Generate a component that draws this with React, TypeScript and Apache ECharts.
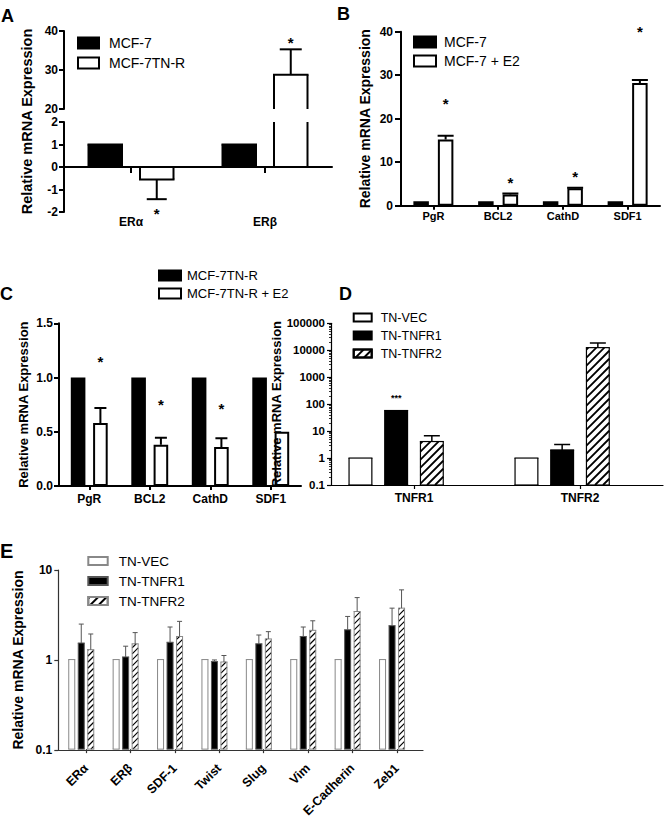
import React, { useEffect, useRef } from 'react';
import * as echarts from 'echarts';

const FONT = '"Liberation Sans", Arial, Helvetica, sans-serif';
const Y_TITLE = 'Relative mRNA Expression';

// ---- Panel A
const aCategories = ['ERα', 'ERβ'];
const aMCF7 = [1, 1];
const aMCF7TNR = [-0.55, 28.8];
const aMCF7TNRErr = [0.88, 6.5];
const aStars = [-1.9, 38];
const aUpperAxis = { min: 20, max: 40, interval: 10 };
const aLowerAxis = { min: -2, max: 2, interval: 1 };

// ---- Panel B
const bCategories = ['PgR', 'BCL2', 'CathD', 'SDF1'];
const bMCF7 = [1, 1, 1, 1];
const bMCF7E2 = [15.2, 2.6, 4.0, 28.2];
const bMCF7E2Err = [0.9, 0.2, 0.15, 0.7];
const bStars = [24.5, 6.3, 7.6, 41];

// ---- Panel C
const cCategories = ['PgR', 'BCL2', 'CathD', 'SDF1'];
const cTNR = [1, 1, 1, 1];
const cTNRE2 = [0.58, 0.38, 0.36, 0.5];
const cTNRE2Err = [0.14, 0.065, 0.08, 0];
const cStars = [1.185, 0.785, 0.755, null];

// ---- Panel D
const dCategories = ['TNFR1', 'TNFR2'];
const dVEC = [1, 1];
const dTNFR1 = [58, 2.0];
const dTNFR1Err = [0, 1.2];
const dTNFR2 = [4.1, 12500];
const dTNFR2Err = [2.6, 6000];
const dStars = [200, null];
const dAxis = { min: 0.1, max: 100000 };

// ---- Panel E
const eCategories = ['ERα', 'ERβ', 'SDF-1', 'Twist', 'Slug', 'Vim', 'E-Cadherin', 'Zeb1'];
const eVEC = [1, 1, 1, 1, 1, 1, 1, 1];
const eTNFR1 = [1.53, 1.07, 1.56, 0.95, 1.5, 1.81, 2.15, 2.39];
const eTNFR1Err = [0.96, 0.34, 0.75, 0.04, 0.38, 0.5, 0.88, 1.36];
const eTNFR2 = [1.29, 1.5, 1.81, 0.94, 1.7, 2.12, 3.44, 3.75];
const eTNFR2Err = [0.64, 0.5, 0.86, 0.17, 0.35, 0.59, 1.48, 2.25];
const eAxis = { min: 0.1, max: 10 };

function barOffsets(n: number, width: number, gap: number) {
  const total = n * width + (n - 1) * gap;
  return Array.from({ length: n }, (_, i) => -total / 2 + width / 2 + i * (width + gap));
}

const hatchDecal = {
  symbol: 'rect',
  symbolSize: 1,
  dashArrayX: [1, 0],
  dashArrayY: [1.8, 4],
  rotation: -Math.PI / 4,
  color: '#000',
};

function errorSeries(xi: number, yi: number, values: number[], errs: number[], offset: number, cap: number, color: string, lw: number) {
  return {
    type: 'custom',
    xAxisIndex: xi,
    yAxisIndex: yi,
    clip: true,
    silent: true,
    z: 5,
    data: values.map((v, i) => [i, v, errs[i]]),
    renderItem: (params: any, api: any) => {
      const i = api.value(0);
      const v = api.value(1);
      const e = api.value(2);
      if (!e) return null;
      const end = v < 0 ? v - e : v + e;
      const p0 = api.coord([i, v]);
      const p1 = api.coord([i, end]);
      const x = p0[0] + offset;
      return {
        type: 'group',
        children: [
          { type: 'line', shape: { x1: x, y1: p0[1], x2: x, y2: p1[1] }, style: { stroke: color, lineWidth: lw } },
          { type: 'line', shape: { x1: x - cap / 2, y1: p1[1], x2: x + cap / 2, y2: p1[1] }, style: { stroke: color, lineWidth: lw } },
        ],
      };
    },
  };
}

function starSeries(xi: number, yi: number, ys: (number | null)[], offset: number, text: string, fontSize: number, dy: number) {
  return {
    type: 'custom',
    xAxisIndex: xi,
    yAxisIndex: yi,
    clip: false,
    silent: true,
    z: 6,
    data: ys.map((y, i) => [i, y]).filter((d) => d[1] != null),
    renderItem: (params: any, api: any) => {
      const p = api.coord([api.value(0), api.value(1)]);
      const cs = params.coordSys;
      if (p[1] < cs.y - 15 || p[1] > cs.y + cs.height + 15) return null;
      return {
        type: 'text',
        x: p[0] + offset,
        y: p[1] + dy,
        style: {
          text,
          fill: '#000',
          fontFamily: FONT,
          fontWeight: 'bold',
          fontSize,
          align: 'center',
          verticalAlign: 'middle',
          textAlign: 'center',
          textVerticalAlign: 'middle',
        },
      };
    },
  };
}

type BarStyle = { fill: string; stroke: string; lw: number; hatch?: { step: number; lw: number } };

// bar drawn through the axes' own scales; a bar crossing an axis break stays open at the break,
// and bars on log axes start at the bottom of the axis
function customBarSeries(name: string, xi: number, yi: number, values: number[], base: number, offset: number, width: number, st: BarStyle) {
  return {
    type: 'custom',
    name,
    xAxisIndex: xi,
    yAxisIndex: yi,
    clip: false,
    z: 3,
    itemStyle: {
      color: st.fill,
      borderColor: st.stroke,
      borderWidth: st.lw,
      ...(st.hatch ? { decal: hatchDecal } : {}),
    },
    data: values.map((v, i) => [i, v]),
    renderItem: (params: any, api: any) => {
      const i = api.value(0);
      const v = api.value(1);
      const cs = params.coordSys;
      const top = cs.y;
      const bot = cs.y + cs.height;
      const clamp = (y: number) => Math.max(top, Math.min(bot, y));
      const pv = api.coord([i, v]);
      const p0 = api.coord([i, base]);
      const yv = pv[1];
      const y0 = p0[1];
      const yvC = clamp(yv);
      const y0C = clamp(y0);
      if (Math.abs(yvC - y0C) < 0.5) return null;
      const x = pv[0] + offset;
      const xl = x - width / 2;
      const xr = x + width / 2;
      const yt = Math.min(yvC, y0C);
      const yb = Math.max(yvC, y0C);
      const ln = (x1: number, y1: number, x2: number, y2: number, w: number, c: string) => ({
        type: 'line',
        shape: { x1, y1, x2, y2 },
        style: { stroke: c, lineWidth: w },
      });
      const children: any[] = [
        { type: 'rect', shape: { x: xl, y: yt, width, height: yb - yt }, style: { fill: st.fill } },
      ];
      if (st.hatch) {
        const s = st.hatch.step;
        const cStart = Math.ceil((xl + yt) / s) * s;
        for (let c = cStart; c <= xr + yb; c += s) {
          const ymin = Math.max(yt, c - xr);
          const ymax = Math.min(yb, c - xl);
          if (ymax - ymin > 0.3) children.push(ln(c - ymin, ymin, c - ymax, ymax, st.hatch.lw, '#000'));
        }
      }
      children.push(ln(xl, yt, xl, yb, st.lw, st.stroke));
      children.push(ln(xr, yt, xr, yb, st.lw, st.stroke));
      if (yvC === yv) children.push(ln(xl - st.lw / 2, yv, xr + st.lw / 2, yv, st.lw, st.stroke));
      if (y0C === y0) children.push(ln(xl - st.lw / 2, y0, xr + st.lw / 2, y0, st.lw, st.stroke));
      return { type: 'group', children };
    },
  };
}

const tickLabel = (size: number, margin: number) => ({
  margin,
  fontFamily: FONT,
  fontWeight: 'bold' as const,
  fontSize: size,
  color: '#000',
});

const yName = (gap: number, size: number) => ({
  name: Y_TITLE,
  nameLocation: 'middle',
  nameGap: gap,
  nameRotate: 90,
  nameTextStyle: { fontFamily: FONT, fontWeight: 'bold', fontSize: size, color: '#000' },
});

const legend = (data: string[], left: number, top: number, w: number, h: number, gap: number, fontSize: number, textPad: number) => ({
  data,
  left,
  top,
  orient: 'vertical',
  padding: 0,
  itemWidth: w,
  itemHeight: h,
  itemGap: gap,
  icon: 'rect',
  selectedMode: false,
  textStyle: { fontFamily: FONT, fontSize, color: '#000', padding: [0, 0, 0, textPad] },
});

const logFmt = (v: number) => String(parseFloat(Number(v).toPrecision(6)));

function buildOption() {
  const aW = 33.5;
  const aOff = barOffsets(2, aW, 18);
  const bW = 15.5;
  const bGap = 9;
  const bOff = barOffsets(2, bW, bGap);
  const cW = 14.6;
  const cGap = 7.7;
  const cOff = barOffsets(2, cW, cGap);
  const dW = 22.8;
  const dOff = barOffsets(4, dW, 12.9);
  const eW = 6;
  const eOff = barOffsets(4, eW, 3.5);

  const black = { color: '#000', borderColor: '#000' };
  const white = { color: '#fff', borderColor: '#000' };

  const grid = [
    { left: 64, top: 31, width: 268, height: 78 }, // 0 A upper
    { left: 64, top: 122, width: 268, height: 90 }, // 1 A lower
    { left: 64, top: 31, width: 268, height: 181 }, // 2 A title
    { left: 401, top: 31.7, width: 259, height: 174 }, // 3 B
    { left: 59, top: 323.3, width: 242, height: 162.7 }, // 4 C
    { left: 331, top: 323.3, width: 332, height: 161.7 }, // 5 D
    { left: 63.8, top: 570, width: 355.2, height: 180 }, // 6 E main
    { left: 58.3, top: 570, width: 364.7, height: 180 }, // 7 E frame
  ];

  const hidden = { show: false };

  const xAxis: any[] = [
    { gridIndex: 0, type: 'category', data: aCategories, show: false },
    {
      gridIndex: 1, type: 'category', data: aCategories,
      axisLine: { show: true, onZero: true, lineStyle: { color: '#000', width: 2 } },
      axisTick: { show: true, alignWithLabel: true, length: 6, lineStyle: { color: '#000', width: 2 } },
      axisLabel: { show: false },
    },
    {
      gridIndex: 1, type: 'category', data: aCategories, position: 'bottom',
      axisLine: { show: false, onZero: false },
      axisTick: { show: false },
      axisLabel: tickLabel(12, 4),
    },
    { gridIndex: 2, type: 'category', data: aCategories, show: false },
    {
      gridIndex: 3, type: 'category', data: bCategories,
      axisLine: { show: true, lineStyle: { color: '#000', width: 2 } },
      axisTick: { show: true, alignWithLabel: true, length: 4, lineStyle: { color: '#000', width: 2 } },
      axisLabel: tickLabel(11, 5),
    },
    {
      gridIndex: 4, type: 'category', data: cCategories,
      axisLine: { show: true, lineStyle: { color: '#000', width: 2 } },
      axisTick: { show: true, alignWithLabel: true, length: 4, lineStyle: { color: '#000', width: 2 } },
      axisLabel: tickLabel(12, 7),
    },
    {
      gridIndex: 5, type: 'category', data: dCategories,
      axisLine: { show: true, lineStyle: { color: '#000', width: 1.2 } },
      axisTick: { show: true, alignWithLabel: true, length: 4, lineStyle: { color: '#000', width: 1.2 } },
      axisLabel: tickLabel(12, 7),
    },
    {
      gridIndex: 6, type: 'category', data: eCategories,
      axisLine: { show: false },
      axisTick: { show: true, alignWithLabel: true, length: 4, lineStyle: { color: '#333', width: 1.2 } },
      axisLabel: { ...tickLabel(12.5, 17), rotate: 45 },
    },
    {
      gridIndex: 7, type: 'value', min: 0, max: 1,
      axisLine: { show: true, lineStyle: { color: '#333', width: 1.2 } },
      axisTick: hidden, axisLabel: hidden, splitLine: hidden,
    },
  ];

  const yAxis: any[] = [
    {
      gridIndex: 0, type: 'value', ...aUpperAxis,
      axisLine: { show: true, lineStyle: { color: '#000', width: 2 } },
      axisTick: { show: true, length: 5, lineStyle: { color: '#000', width: 2 } },
      axisLabel: tickLabel(12, 6), splitLine: hidden,
    },
    {
      gridIndex: 1, type: 'value', ...aLowerAxis,
      axisLine: { show: true, lineStyle: { color: '#000', width: 2 } },
      axisTick: { show: true, length: 5, lineStyle: { color: '#000', width: 2 } },
      axisLabel: tickLabel(12, 6), splitLine: hidden,
    },
    {
      gridIndex: 2, type: 'value', min: 0, max: 1,
      axisLine: hidden, axisTick: hidden, axisLabel: hidden, splitLine: hidden,
      ...yName(30, 14.5),
    },
    {
      gridIndex: 3, type: 'value', min: 0, max: 40, interval: 10,
      axisLine: { show: true, lineStyle: { color: '#000', width: 2 } },
      axisTick: { show: true, length: 6, lineStyle: { color: '#000', width: 2 } },
      axisLabel: tickLabel(12, 8), splitLine: hidden,
      ...yName(29, 14),
    },
    {
      gridIndex: 4, type: 'value', min: 0, max: 1.5, interval: 0.5,
      axisLine: { show: true, lineStyle: { color: '#000', width: 2 } },
      axisTick: { show: true, length: 5, lineStyle: { color: '#000', width: 2 } },
      axisLabel: { ...tickLabel(12, 6), formatter: (v: number) => v.toFixed(1) }, splitLine: hidden,
      ...yName(29, 13),
    },
    {
      gridIndex: 5, type: 'log', logBase: 10, ...dAxis, z: 10,
      axisLine: { show: true, lineStyle: { color: '#000', width: 1.2 } },
      axisTick: { show: true, length: 4, lineStyle: { color: '#000', width: 1.2 } },
      minorTick: { show: true, splitNumber: 9, length: 2, lineStyle: { color: '#000', width: 0.8 } },
      axisLabel: { ...tickLabel(11.5, 6), formatter: logFmt }, splitLine: hidden,
      ...yName(47, 13),
    },
    { gridIndex: 6, type: 'log', logBase: 10, ...eAxis, show: false },
    {
      gridIndex: 7, type: 'log', logBase: 10, ...eAxis,
      axisLine: { show: true, lineStyle: { color: '#333', width: 1.2 } },
      axisTick: { show: true, length: 4, lineStyle: { color: '#333', width: 1.2 } },
      axisLabel: { ...tickLabel(12, 6), formatter: logFmt }, splitLine: hidden,
      ...yName(25, 14),
    },
  ];

  const aBlack: BarStyle = { fill: '#000', stroke: '#000', lw: 2 };
  const aWhite: BarStyle = { fill: '#fff', stroke: '#000', lw: 2 };
  const dWhite: BarStyle = { fill: '#fff', stroke: '#000', lw: 1.2 };
  const dBlack: BarStyle = { fill: '#000', stroke: '#000', lw: 1.2 };
  const dHatch: BarStyle = { fill: '#fff', stroke: '#000', lw: 1.2, hatch: { step: 8, lw: 1.8 } };
  const eWhite: BarStyle = { fill: '#fff', stroke: '#888', lw: 1 };
  const eBlack: BarStyle = { fill: '#000', stroke: '#555', lw: 1 };
  const eHatch: BarStyle = { fill: '#fff', stroke: '#888', lw: 1, hatch: { step: 6, lw: 1.2 } };

  const series: any[] = [
    // ---- A
    customBarSeries('MCF-7', 0, 0, aMCF7, 0, aOff[0], aW, aBlack),
    customBarSeries('MCF-7TN-R', 0, 0, aMCF7TNR, 0, aOff[1], aW, aWhite),
    customBarSeries('MCF-7', 1, 1, aMCF7, 0, aOff[0], aW, aBlack),
    customBarSeries('MCF-7TN-R', 1, 1, aMCF7TNR, 0, aOff[1], aW, aWhite),
    errorSeries(0, 0, aMCF7TNR, aMCF7TNRErr, aOff[1], 22, '#000', 2),
    errorSeries(1, 1, aMCF7TNR, aMCF7TNRErr, aOff[1], 20, '#000', 2),
    starSeries(0, 0, aStars, aOff[1], '*', 15, 4),
    starSeries(1, 1, aStars, aOff[1], '*', 15, 4),
    // ---- B
    { type: 'bar', name: 'MCF-7', xAxisIndex: 4, yAxisIndex: 3, data: bMCF7, barWidth: bW, barGap: `${(bGap / bW) * 100}%`, itemStyle: { ...black, borderWidth: 2 } },
    { type: 'bar', name: 'MCF-7 + E2', xAxisIndex: 4, yAxisIndex: 3, data: bMCF7E2, barWidth: bW, barGap: `${(bGap / bW) * 100}%`, itemStyle: { ...white, borderWidth: 2 } },
    errorSeries(4, 3, bMCF7E2, bMCF7E2Err, bOff[1], 16, '#000', 2),
    starSeries(4, 3, bStars, bOff[1], '*', 15, 4),
    // ---- C
    { type: 'bar', name: 'MCF-7TN-R ', xAxisIndex: 5, yAxisIndex: 4, data: cTNR, barWidth: cW, barGap: `${(cGap / cW) * 100}%`, itemStyle: { ...black, borderWidth: 2 } },
    { type: 'bar', name: 'MCF-7TN-R + E2', xAxisIndex: 5, yAxisIndex: 4, data: cTNRE2, barWidth: cW, barGap: `${(cGap / cW) * 100}%`, itemStyle: { ...white, borderWidth: 2 } },
    errorSeries(5, 4, cTNRE2, cTNRE2Err, cOff[1], 12, '#000', 2),
    starSeries(5, 4, cStars, cOff[1], '*', 15, 4),
    // ---- D
    customBarSeries('TN-VEC', 6, 5, dVEC, dAxis.min, dOff[0], dW, dWhite),
    customBarSeries('TN-TNFR1', 6, 5, dTNFR1, dAxis.min, dOff[1], dW, dBlack),
    customBarSeries('TN-TNFR2', 6, 5, dTNFR2, dAxis.min, dOff[2], dW, dHatch),
    errorSeries(6, 5, dTNFR1, dTNFR1Err, dOff[1], 16, '#000', 1.5),
    errorSeries(6, 5, dTNFR2, dTNFR2Err, dOff[2], 16, '#000', 1.5),
    starSeries(6, 5, dStars, dOff[1], '***', 9, 2),
    // ---- E
    customBarSeries('TN-VEC ', 7, 6, eVEC, eAxis.min, eOff[0], eW, eWhite),
    customBarSeries('TN-TNFR1 ', 7, 6, eTNFR1, eAxis.min, eOff[1], eW, eBlack),
    customBarSeries('TN-TNFR2 ', 7, 6, eTNFR2, eAxis.min, eOff[2], eW, eHatch),
    errorSeries(7, 6, eTNFR1, eTNFR1Err, eOff[1], 5, '#555', 1),
    errorSeries(7, 6, eTNFR2, eTNFR2Err, eOff[2], 5, '#555', 1),
  ];

  const letter = (t: string, x: number, y: number, size: number) => ({
    type: 'text',
    x,
    y,
    style: { text: t, fill: '#000', font: `bold ${size}px ${FONT}`, verticalAlign: 'top', textVerticalAlign: 'top' },
  });

  return {
    animation: false,
    backgroundColor: '#fff',
    grid,
    xAxis,
    yAxis,
    series,
    legend: [
      legend(['MCF-7', 'MCF-7TN-R'], 77, 36, 21, 11, 6, 14, 5),
      legend(['MCF-7', 'MCF-7 + E2'], 413, 35, 22, 11, 5, 14, 3),
      legend(['MCF-7TN-R ', 'MCF-7TN-R + E2'], 158, 269, 22, 10, 5, 13, 1),
      legend(['TN-VEC', 'TN-TNFR1', 'TN-TNFR2'], 352.7, 311, 18, 8, 5, 12.5, 4),
      legend(['TN-VEC ', 'TN-TNFR1 ', 'TN-TNFR2 '], 87.3, 554, 19.4, 8, 6, 13.5, 6),
    ],
    graphic: {
      elements: [
        letter('A', 1, 7, 18),
        letter('B', 337, 5, 18),
        letter('C', 0, 285, 18),
        letter('D', 339, 285, 18),
        letter('E', 0, 541, 20),
      ],
    },
  };
}

export default function App() {
  const ref = useRef<HTMLDivElement>(null);
  useEffect(() => {
    if (!ref.current) return;
    const chart = echarts.init(ref.current, undefined, { renderer: 'svg' });
    chart.setOption(buildOption() as any);
    return () => chart.dispose();
  }, []);
  return (
    <div
      ref={ref}
      style={{ position: 'fixed', left: 0, top: 0, width: 664, height: 820, background: '#fff' }}
    />
  );
}
